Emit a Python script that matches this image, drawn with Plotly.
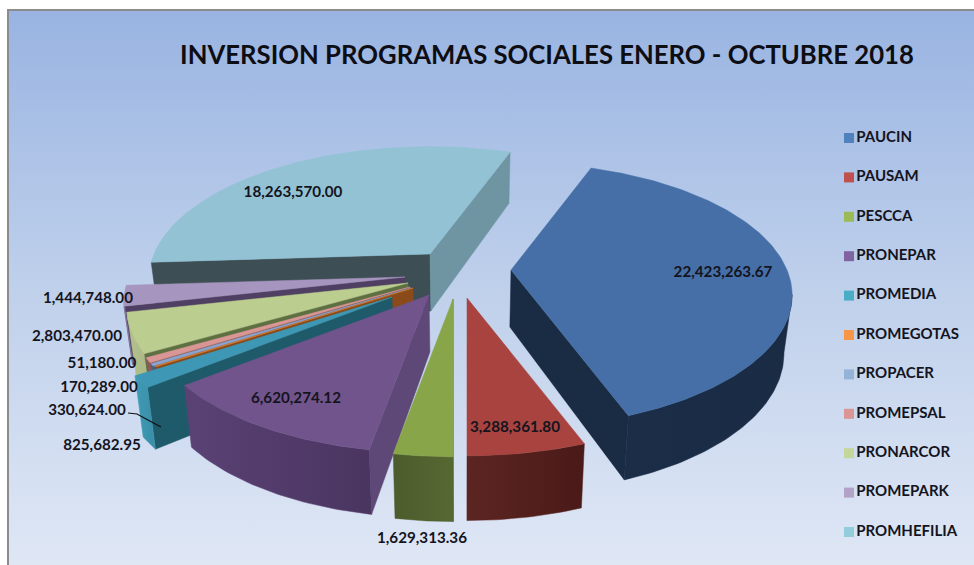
import math
import plotly.graph_objects as go

# Datos del grafico
titulo = 'INVERSION PROGRAMAS SOCIALES ENERO - OCTUBRE 2018'
programas = ['PAUCIN', 'PAUSAM', 'PESCCA', 'PRONEPAR', 'PROMEDIA', 'PROMEGOTAS',
             'PROPACER', 'PROMEPSAL', 'PRONARCOR', 'PROMEPARK', 'PROMHEFILIA']
inversion = [22423263.67, 3288361.80, 1629313.36, 6620274.12, 825682.95, 51180.00,
             170289.00, 330624.00, 2803470.00, 1444748.00, 18263570.00]

# Colores: leyenda, cara superior, pared recta, pared exterior (degradado)
color_leyenda = ['#4F81BD', '#C0504D', '#9BBB59', '#8064A2', '#4BACC6', '#F79646',
                 '#95B3D7', '#DA9694', '#C4D79B', '#B2A2C7', '#92CDDC']
color_tapa = ['#456FA6', '#A8433F', '#88A54A', '#71548C', '#3E98B5', '#D97F2E',
              '#8AA3CF', '#D99694', '#BBCE90', '#A695BF', '#92C2D4']
color_pared = ['#1A2B44', '#562220', '#50612E', '#5D4878', '#1F5A6B', '#8A4A1A',
               '#4F5F80', '#8A5A58', '#5E7042', '#4F3F63', '#3D4F54']
color_borde = [('#1B2D47', '#1A2B44'), ('#5C2522', '#4A1A18'), ('#4C5C2C', '#566832'),
               ('#5A4275', '#4A3560'), ('#3F9BB5', '#3A8DA6'), ('#8A4A1A', '#8A4A1A'),
               ('#4F5F80', '#4F5F80'), ('#8A5A58', '#8A5A58'), ('#B5C28F', '#A8B682'),
               ('#8A7AA3', '#8A7AA3'), ('#3D4F54', '#3D4F54')]

# Vertice de cada porcion separada (pixeles de la imagen)
vertices = [(511, 270), (467, 298), (453, 299), (429, 295), (392, 297), (413, 288),
            (411, 288), (410, 287), (408, 283), (405, 277), (430, 254)]

# Posicion de las etiquetas de valor
etiqueta_x = [723, 515, 422, 296, 102, 102, 99, 87, 77, 88, 293]
etiqueta_y = [273, 428, 539, 399, 446, 364, 388, 411, 337, 299, 193]

# Parametros de la proyeccion 3D
GIRO = 20.0
RX, RY = 276.0, 127.8
PERSP = 0.19
ALTO = 57.0
FUGA_X = 465.0
PASOS_GRADO = 1.0

# Clave de colores a la derecha
CLAVE_X = 849
CLAVE_Y0 = 138
CLAVE_PASO = 39.4


def proyecta(vertice, grados, r=1.0):
    t = math.radians(grados)
    u = r * math.cos(t)
    d = 1 + PERSP * u
    return vertice[0] + RX * r * math.sin(t) / d, vertice[1] - RY * u / d, u


def abajo(p):
    return FUGA_X + (p[0] - FUGA_X) * 0.975, p[1] + ALTO / (1 + 0.12 * p[2])


def poligono(xs, ys, color, gradiente=None):
    extra = {}
    if gradiente:
        extra['fillgradient'] = dict(type='horizontal',
                                     colorscale=[[0, gradiente[0]], [1, gradiente[1]]])
    else:
        extra['fillcolor'] = color
    return go.Scatter(x=xs + xs[:1], y=ys + ys[:1], mode='lines', fill='toself',
                      line=dict(width=0.5, color=color), hoverinfo='skip',
                      showlegend=False, **extra)


fig = go.Figure()

# Fondo degradado
fig.add_trace(go.Scatter(x=[8, 974, 974, 8, 8], y=[10, 10, 565, 565, 10], mode='lines',
                         fill='toself', line=dict(width=0), hoverinfo='skip', showlegend=False,
                         fillgradient=dict(type='vertical',
                                           colorscale=[[0, '#DFE7F5'], [0.5, '#BFD0EB'], [1, '#99B4E2']])))
fig.add_trace(go.Scatter(x=[8, 8, 974], y=[565, 10, 10], mode='lines', hoverinfo='skip',
                         line=dict(width=2, color='#8C8C8C'), showlegend=False))

# Angulos de cada porcion a partir de los valores
total = sum(inversion)
inicio = []
fin = []
acum = GIRO
for v in inversion:
    inicio.append(acum)
    acum += v / total * 360
    fin.append(acum)

# Se pintan de atras hacia delante
medio = [(a + b) / 2 for a, b in zip(inicio, fin)]
orden = sorted(range(len(inversion)), key=lambda i: -math.cos(math.radians(medio[i])))

for i in orden:
    ap = vertices[i]
    n = max(2, int((fin[i] - inicio[i]) / PASOS_GRADO) + 2)
    angs = [inicio[i] + (fin[i] - inicio[i]) * k / (n - 1) for k in range(n)]
    arco = [proyecta(ap, a) for a in angs]
    centro = (ap[0], ap[1], 0.0)
    mitad = proyecta(ap, medio[i])

    # Paredes rectas visibles
    for borde in (arco[0], arco[-1]):
        rx, ry = borde[0] - ap[0], borde[1] - ap[1]
        qx, qy = mitad[0] - ap[0], mitad[1] - ap[1]
        if (rx * qy - ry * qx) * rx < 0:
            b1, b2 = abajo(centro), abajo(borde)
            color = color_pared[i]
            if i == len(inversion) - 1 and borde is arco[-1]:
                color = '#6F95A3'
            fig.add_trace(poligono([ap[0], borde[0], b2[0], b1[0]],
                                   [ap[1], borde[1], b2[1], b1[1]], color))

    # Pared exterior: solo el tramo que mira al frente
    tramo = [arco[k] for k in range(n)
             if (k + 1 < n and arco[k + 1][0] < arco[k][0])
             or (k > 0 and arco[k][0] < arco[k - 1][0])]
    if len(tramo) > 1:
        bajos = [abajo(p) for p in tramo]
        fig.add_trace(poligono([p[0] for p in tramo] + [p[0] for p in bajos[::-1]],
                               [p[1] for p in tramo] + [p[1] for p in bajos[::-1]],
                               color_borde[i][0], gradiente=color_borde[i]))

    # Cara superior
    fig.add_trace(poligono([ap[0]] + [p[0] for p in arco],
                           [ap[1]] + [p[1] for p in arco], color_tapa[i]))

# Etiquetas con el valor
fig.add_trace(go.Scatter(x=etiqueta_x, y=etiqueta_y, mode='text', hoverinfo='skip', showlegend=False,
                         text=[f'{v:,.2f}' for v in inversion],
                         textfont=dict(family='Lato', size=15.2, color='#14141E', weight=700)))

# Linea guia
fig.add_trace(go.Scatter(x=[128, 137, 161], y=[413, 414, 427], mode='lines', hoverinfo='skip',
                         line=dict(width=1.2, color='#111111'), showlegend=False))

# Clave de colores
fig.add_trace(go.Scatter(x=[CLAVE_X] * len(programas),
                         y=[CLAVE_Y0 + k * CLAVE_PASO for k in range(len(programas))],
                         mode='markers+text', text=programas, textposition='middle right',
                         textfont=dict(family='Lato', size=15, color='#14141E', weight=700),
                         marker=dict(symbol='square', size=10, color=color_leyenda),
                         hoverinfo='skip', showlegend=False))

fig.update_layout(
    width=974, height=565,
    margin=dict(l=0, r=0, t=0, b=0),
    paper_bgcolor='white', plot_bgcolor='rgba(0,0,0,0)',
    xaxis=dict(range=[0, 974], visible=False, fixedrange=True),
    yaxis=dict(range=[565, 0], visible=False, fixedrange=True),
    title=dict(text=titulo, x=547 / 974, xanchor='center', y=1 - 55 / 565, yanchor='middle',
               font=dict(family='Lato', size=25.7, color='#0D0D14', weight=700)),
    showlegend=False,
)

fig.write_html("out.html", post_script="document.body.style.margin='0';",
               config=dict(displayModeBar=False))
